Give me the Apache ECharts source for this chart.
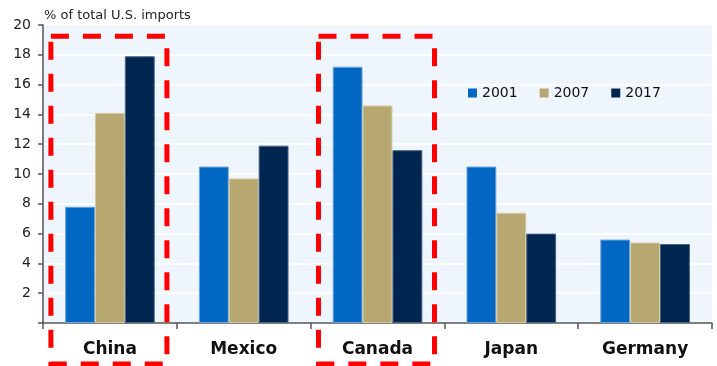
<!DOCTYPE html>
<html>
<head>
<meta charset="utf-8">
<script src="https://cdn.jsdelivr.net/npm/echarts@6/dist/echarts.min.js"></script>
<style>
  html, body { margin: 0; padding: 0; background: #fff; }
  #chart { width: 717px; height: 366px; }
</style>
</head>
<body>
<div id="chart"></div>
<script>
// data
var countries = ["China", "Mexico", "Canada", "Japan", "Germany"];
var years = ["2001", "2007", "2017"];
var v2001 = [7.8, 10.5, 17.2, 10.5, 5.6];
var v2007 = [14.1, 9.7, 14.6, 7.4, 5.4];
var v2017 = [17.9, 11.9, 11.6, 6.0, 5.3];
var yTicks = [2, 4, 6, 8, 10, 12, 14, 16, 18, 20];
var boxed = ["China", "Canada"];

var colors = ["#0068C2", "#B7A770", "#00264F"];
var borders = ["#6EA6DC", "#D6CBA0", "#4A6286"];
var font = "DejaVu Sans";

var myChart = echarts.init(document.getElementById("chart"));

function bar(name, data, i) {
  return {
    name: name,
    type: "bar",
    data: data,
    barGap: "0%",
    barCategoryGap: "33%",
    itemStyle: { color: colors[i], borderColor: borders[i], borderWidth: 1 }
  };
}

var option = {
  animation: false,
  textStyle: { fontFamily: font },
  title: {
    text: "% of total U.S. imports",
    left: 39,
    top: 4,
    textStyle: { fontSize: 13, fontWeight: "normal", color: "#222", fontFamily: font }
  },
  legend: {
    data: years,
    left: 463,
    top: 81,
    itemWidth: 9,
    itemHeight: 9,
    itemGap: 22,
    icon: "rect",
    itemStyle: { borderWidth: 0 },
    textStyle: { fontSize: 14, color: "#111", fontFamily: font }
  },
  grid: {
    left: 43,
    right: 5,
    top: 25,
    bottom: 43,
    show: true,
    backgroundColor: "#EEF5FC",
    borderWidth: 0
  },
  xAxis: {
    type: "category",
    data: countries,
    axisLine: { lineStyle: { color: "#555", width: 1.5 } },
    axisTick: { show: true, length: 6, lineStyle: { color: "#555", width: 1.5 } },
    axisLabel: { fontSize: 17, fontWeight: "bold", color: "#111", margin: 18, fontFamily: font }
  },
  yAxis: {
    type: "value",
    min: 0,
    max: 20,
    interval: 2,
    axisLine: { show: true, lineStyle: { color: "#555", width: 1.5 } },
    axisTick: { show: true, length: 5, lineStyle: { color: "#555", width: 1.5 } },
    splitLine: { lineStyle: { color: "#fff", width: 1.5 } },
    axisLabel: {
      fontSize: 14,
      color: "#222",
      margin: 12,
      fontFamily: font,
      formatter: function (v) { return yTicks.indexOf(v) >= 0 ? String(v) : ""; }
    }
  },
  series: [bar(years[0], v2001, 0), bar(years[1], v2007, 1), bar(years[2], v2017, 2)]
};

myChart.setOption(option);

// red dashed boxes around highlighted countries
var boxTop = myChart.convertToPixel({ yAxisIndex: 0 }, 19.25);
var boxes = boxed.map(function (c) {
  var cx = myChart.convertToPixel({ xAxisIndex: 0 }, c);
  return {
    type: "rect",
    z: 100,
    shape: { x: cx - 59, y: boxTop, width: 116, height: 364 - boxTop },
    style: { fill: "none", stroke: "#FF0000", lineWidth: 5, lineDash: [18, 14] }
  };
});
myChart.setOption({ graphic: boxes });
</script>
</body>
</html>
